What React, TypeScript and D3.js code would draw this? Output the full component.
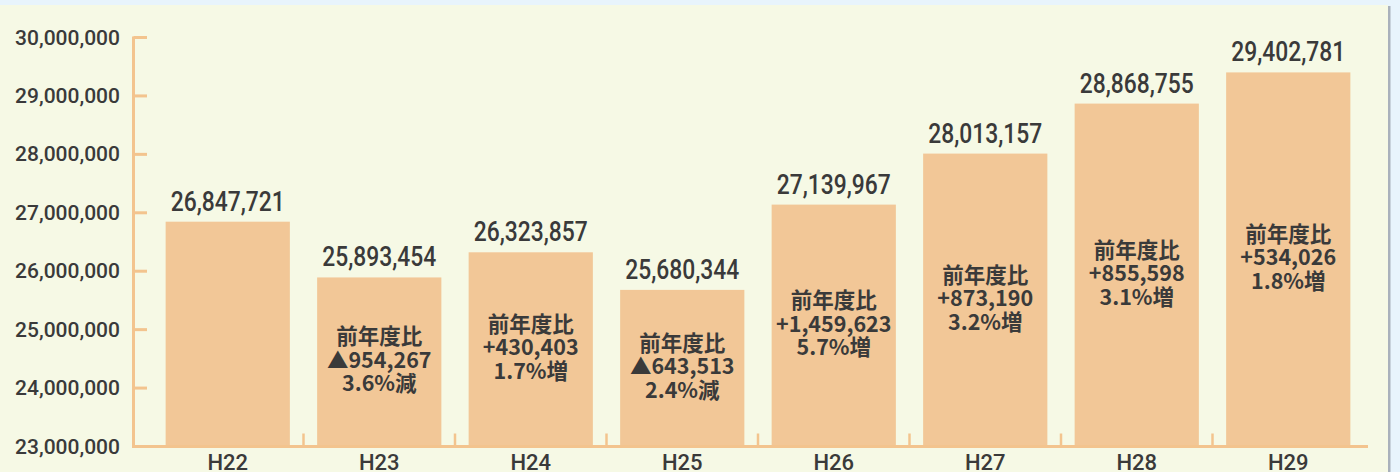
import React from "react";
import * as d3 from "d3";

const categories = ["H22", "H23", "H24", "H25", "H26", "H27", "H28", "H29"];
const values = [26847721, 25893454, 26323857, 25680344, 27139967, 28013157, 28868755, 29402781];
const changeAmounts = ["", "▲954,267", "+430,403", "▲643,513", "+1,459,623", "+873,190", "+855,598", "+534,026"];
const changeRates = ["", "3.6%減", "1.7%増", "2.4%減", "5.7%増", "3.2%増", "3.1%増", "1.8%増"];
const yTicks = [23000000, 24000000, 25000000, 26000000, 27000000, 28000000, 29000000, 30000000];
const annotationHeader = "前年度比";

const W = 1400;
const H = 472;
const BAR = "#f2c797";
const AXIS = "#f3c48e";
const TEXT = "#3a3a3a";

export default function App() {
  const x = d3.scaleBand<string>().domain(categories).range([152, 1364]).paddingInner(0.18).paddingOuter(0.09);
  const y = d3.scaleLinear().domain([23000000, 30000000]).range([446.5, 37.5]);
  const fmt = d3.format(",");
  const step = x.step();
  const bw = x.bandwidth();
  const gap = step - bw;

  return (
    <svg width={W} height={H} style={{ position: "absolute", left: 0, top: 0, display: "block" }}>
      <rect x={0} y={0} width={W} height={H} fill="#e8f4fc" />
      <rect x={0} y={5} width={1388} height={H - 5} fill="#f6f9e5" />
      <rect x={1388} y={6} width={2.5} height={H - 6} fill="#a9b1bb" />

      {/* bars */}
      {categories.map((c, i) => (
        <rect key={c} x={x(c)} y={y(values[i])} width={bw} height={y(23000000) - y(values[i])} fill={BAR} />
      ))}

      {/* y axis */}
      <line x1={133.5} x2={133.5} y1={y(30000000) - 1} y2={y(23000000) + 1.5} stroke={AXIS} strokeWidth={3} />
      {yTicks.map((t) => (
        <g key={t}>
          <line x1={133.5} x2={147} y1={y(t)} y2={y(t)} stroke={AXIS} strokeWidth={3} />
          <text
            x={120}
            y={y(t)}
            textAnchor="end"
            dominantBaseline="central"
            fontFamily="Roboto, sans-serif"
            fontWeight={500}
            fontSize={21}
            fill={TEXT}
          >
            {fmt(t)}
          </text>
        </g>
      ))}

      {/* x axis */}
      <line x1={132} x2={1368} y1={y(23000000)} y2={y(23000000)} stroke={AXIS} strokeWidth={3} />
      {categories.slice(0, -1).map((c) => {
        const tx = (x(c) as number) + bw + gap / 2;
        return <line key={"t" + c} x1={tx} x2={tx} y1={y(23000000)} y2={y(23000000) - 13} stroke={AXIS} strokeWidth={2.5} />;
      })}
      {categories.map((c) => (
        <text
          key={"l" + c}
          x={(x(c) as number) + bw / 2}
          y={470}
          textAnchor="middle"
          fontFamily="Roboto, sans-serif"
          fontWeight={500}
          fontSize={22}
          fill={TEXT}
        >
          {c}
        </text>
      ))}

      {/* value labels */}
      {categories.map((c, i) => (
        <text
          key={"v" + c}
          x={(x(c) as number) + bw / 2}
          y={y(values[i]) - 11}
          textAnchor="middle"
          fontFamily="Roboto, sans-serif"
          fontWeight={500}
          fontSize={27}
          fill={TEXT}
          textLength={114}
          lengthAdjust="spacingAndGlyphs"
        >
          {fmt(values[i])}
        </text>
      ))}

      {/* annotations */}
      {categories.map((c, i) => {
        if (!changeAmounts[i]) return null;
        const cx = (x(c) as number) + bw / 2;
        const mid = (y(values[i]) + y(23000000)) / 2 - 3.5;
        const lines = [annotationHeader, changeAmounts[i], changeRates[i]];
        return (
          <g key={"a" + c}>
            {lines.map((ln, k) => (
              <text
                key={k}
                x={cx}
                y={mid + (k - 1) * 23.5}
                textAnchor="middle"
                dominantBaseline="central"
                fontFamily="'Noto Sans CJK JP', sans-serif"
                fontWeight={700}
                fontSize={21.5}
                fill={TEXT}
              >
                {ln}
              </text>
            ))}
          </g>
        );
      })}
    </svg>
  );
}
